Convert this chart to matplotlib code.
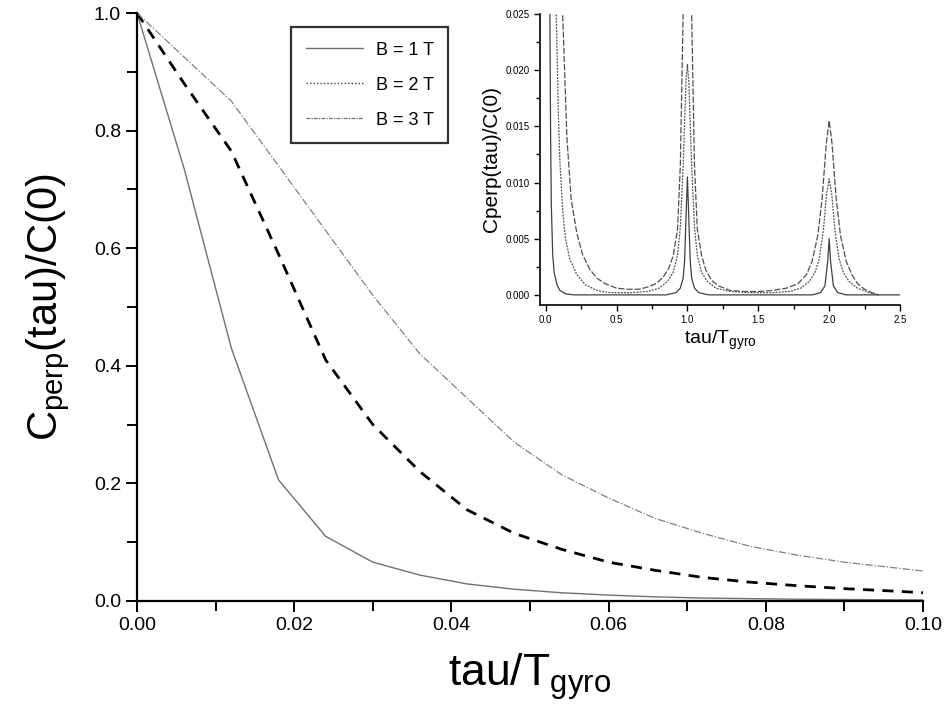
import matplotlib
matplotlib.use("Agg")
import matplotlib.pyplot as plt
from matplotlib.lines import Line2D
from matplotlib.ticker import MultipleLocator, FormatStrFormatter

plt.rcParams['font.family'] = ['Liberation Sans', 'DejaVu Sans']

# main panel data
tau = [0.0, 0.006, 0.012, 0.018, 0.024, 0.030, 0.036, 0.042, 0.048, 0.054,
       0.060, 0.066, 0.072, 0.078, 0.084, 0.090, 0.096, 0.100]
c_b1 = [1.0, 0.735, 0.43, 0.206, 0.11, 0.066, 0.044, 0.029, 0.020, 0.014,
        0.010, 0.007, 0.005, 0.004, 0.003, 0.0025, 0.002, 0.0018]
c_b2 = [1.0, 0.88, 0.765, 0.59, 0.41, 0.30, 0.22, 0.155, 0.115, 0.088,
        0.066, 0.052, 0.040, 0.032, 0.026, 0.021, 0.017, 0.014]
c_b3 = [1.0, 0.925, 0.85, 0.74, 0.63, 0.52, 0.42, 0.345, 0.27, 0.215,
        0.175, 0.14, 0.115, 0.093, 0.078, 0.066, 0.057, 0.051]
labels = ['B = 1 T', 'B = 2 T', 'B = 3 T']

# inset data (long range, zoomed on small values)
in_x1 = [0.02, 0.03, 0.035, 0.04, 0.05, 0.06, 0.08, 0.10, 0.14, 0.20, 0.85,
         0.92, 0.95, 0.97, 0.98, 0.99, 1.00, 1.01, 1.02, 1.03, 1.05, 1.08,
         1.15, 1.88, 1.94, 1.97, 1.99, 2.00, 2.01, 2.03, 2.06, 2.12, 2.50]
in_y1 = [0.04, 0.025, 0.014, 0.008, 0.0035, 0.0020, 0.0009, 0.0004, 0.0001,
         0.0, 0.0, 0.0002, 0.0006, 0.0015, 0.0030, 0.0068, 0.0105, 0.0068,
         0.0030, 0.0015, 0.0006, 0.0002, 0.0, 0.0, 0.0002, 0.0008, 0.0030,
         0.0050, 0.0030, 0.0008, 0.0002, 0.0, 0.0]

in_x2 = [0.06, 0.075, 0.09, 0.10, 0.12, 0.14, 0.17, 0.22, 0.28, 0.36, 0.45,
         0.60, 0.72, 0.80, 0.86, 0.90, 0.93, 0.95, 0.97, 0.99, 1.00, 1.01,
         1.03, 1.05, 1.07, 1.10, 1.14, 1.20, 1.30, 1.45, 1.60, 1.72, 1.80,
         1.86, 1.90, 1.93, 1.96, 1.98, 2.00, 2.02, 2.04, 2.07, 2.10, 2.14,
         2.20, 2.28, 2.35]
in_y2 = [0.04, 0.025, 0.016, 0.012, 0.0075, 0.005, 0.0032, 0.0018, 0.0009,
         0.0004, 0.0002, 0.0002, 0.0003, 0.0006, 0.0012, 0.0020, 0.0035,
         0.0060, 0.0115, 0.0190, 0.0205, 0.0190, 0.0115, 0.0060, 0.0035,
         0.0020, 0.0012, 0.0006, 0.0003, 0.0002, 0.0002, 0.0003, 0.0006,
         0.0012, 0.0020, 0.0032, 0.0058, 0.0088, 0.0103, 0.0088, 0.0058,
         0.0032, 0.0020, 0.0012, 0.0006, 0.0002, 0.0]

in_x3 = [0.08, 0.10, 0.12, 0.15, 0.18, 0.22, 0.26, 0.31, 0.36, 0.42, 0.50,
         0.58, 0.66, 0.72, 0.78, 0.83, 0.87, 0.90, 0.93, 0.95, 0.97, 0.99,
         1.00, 1.01, 1.03, 1.05, 1.07, 1.10, 1.13, 1.17, 1.22, 1.30, 1.40,
         1.50, 1.60, 1.70, 1.78, 1.84, 1.88, 1.92, 1.95, 1.98, 2.00, 2.02,
         2.05, 2.08, 2.12, 2.16, 2.20, 2.25, 2.30, 2.35]
in_y3 = [0.06, 0.038, 0.025, 0.014, 0.0085, 0.0055, 0.0036, 0.0023, 0.0015,
         0.0010, 0.0006, 0.0005, 0.0005, 0.0007, 0.0010, 0.0016, 0.0024,
         0.0035, 0.0058, 0.0115, 0.025, 0.045, 0.05, 0.045, 0.025, 0.0115,
         0.0058, 0.0035, 0.0022, 0.0013, 0.0008, 0.0004, 0.0003, 0.0003,
         0.0004, 0.0006, 0.0010, 0.0018, 0.0030, 0.0053, 0.0085, 0.0135,
         0.0155, 0.0135, 0.0085, 0.0053, 0.0030, 0.0018, 0.0010, 0.0005,
         0.0002, 0.0]

fig = plt.figure(figsize=(9.49, 7.2), dpi=100)
ax = fig.add_axes([0.1444, 0.1653, 0.8282, 0.8166])

ax.plot(tau, c_b1, color='#707070', lw=1.0, ls='-')
ax.plot(tau, c_b2, color='black', lw=2.0, ls=(0, (4, 3)))
ax.plot(tau, c_b3, color='#808080', lw=0.9, ls=(0, (6, 1.5, 1, 1.5)))

ax.set_xlim(0, 0.1)
ax.set_ylim(0, 1.0)
for s in ['top', 'right']:
    ax.spines[s].set_visible(False)
for s in ['left', 'bottom']:
    ax.spines[s].set_linewidth(1.6)
ax.xaxis.set_major_locator(MultipleLocator(0.02))
ax.xaxis.set_minor_locator(MultipleLocator(0.01))
ax.yaxis.set_major_locator(MultipleLocator(0.2))
ax.yaxis.set_minor_locator(MultipleLocator(0.1))
ax.xaxis.set_major_formatter(FormatStrFormatter('%.2f'))
ax.yaxis.set_major_formatter(FormatStrFormatter('%.1f'))
ax.tick_params(which='both', direction='out', width=1.4, labelsize=14)
ax.tick_params(which='major', length=8)
ax.tick_params(which='minor', length=7)
ax.set_xlabel(r'tau/T$_{\mathregular{gyro}}$', fontsize=32, labelpad=12)
ax.set_ylabel(r'C$_{\mathregular{perp}}$(tau)/C(0)', fontsize=30, labelpad=16)

handles = [
    Line2D([], [], color='#707070', lw=1.0, ls='-'),
    Line2D([], [], color='#404040', lw=1.0, ls=(0, (1, 1.5))),
    Line2D([], [], color='#707070', lw=0.9, ls=(0, (3, 1, 1, 1))),
]
leg = ax.legend(handles, labels, loc='upper left', bbox_to_anchor=(0.196, 0.976),
                fontsize=13, frameon=True, fancybox=False, edgecolor='black',
                handlelength=3.2, handletextpad=0.7, labelspacing=1.0,
                borderpad=0.8, borderaxespad=0)
leg.get_frame().set_linewidth(1.6)

# inset
ins = fig.add_axes([0.569, 0.5764, 0.3794, 0.4042])
ins.plot(in_x1, in_y1, color='#404040', lw=0.9, ls='-')
ins.plot(in_x2, in_y2, color='#505050', lw=0.9, ls=(0, (1.5, 1)))
ins.plot(in_x3, in_y3, color='#505050', lw=0.9, ls=(0, (5, 1.5)))
ins.set_xlim(-0.04, 2.5)
ins.set_ylim(-0.0009, 0.025)
for s in ['top', 'right']:
    ins.spines[s].set_visible(False)
for s in ['left', 'bottom']:
    ins.spines[s].set_linewidth(1.2)
ins.xaxis.set_major_locator(MultipleLocator(0.5))
ins.xaxis.set_minor_locator(MultipleLocator(0.25))
ins.yaxis.set_major_locator(MultipleLocator(0.005))
ins.yaxis.set_minor_locator(MultipleLocator(0.0025))
ins.xaxis.set_major_formatter(FormatStrFormatter('%.1f'))
ins.yaxis.set_major_formatter(FormatStrFormatter('%.3f'))
ins.tick_params(which='both', direction='out', width=1.0, labelsize=7)
ins.tick_params(which='major', length=4)
ins.tick_params(which='minor', length=3)
ins.set_xlabel(r'tau/T$_{\mathregular{gyro}}$', fontsize=14, labelpad=2)
ins.set_ylabel('Cperp(tau)/C(0)', fontsize=15, labelpad=3)

fig.savefig('out.png', dpi=100)
